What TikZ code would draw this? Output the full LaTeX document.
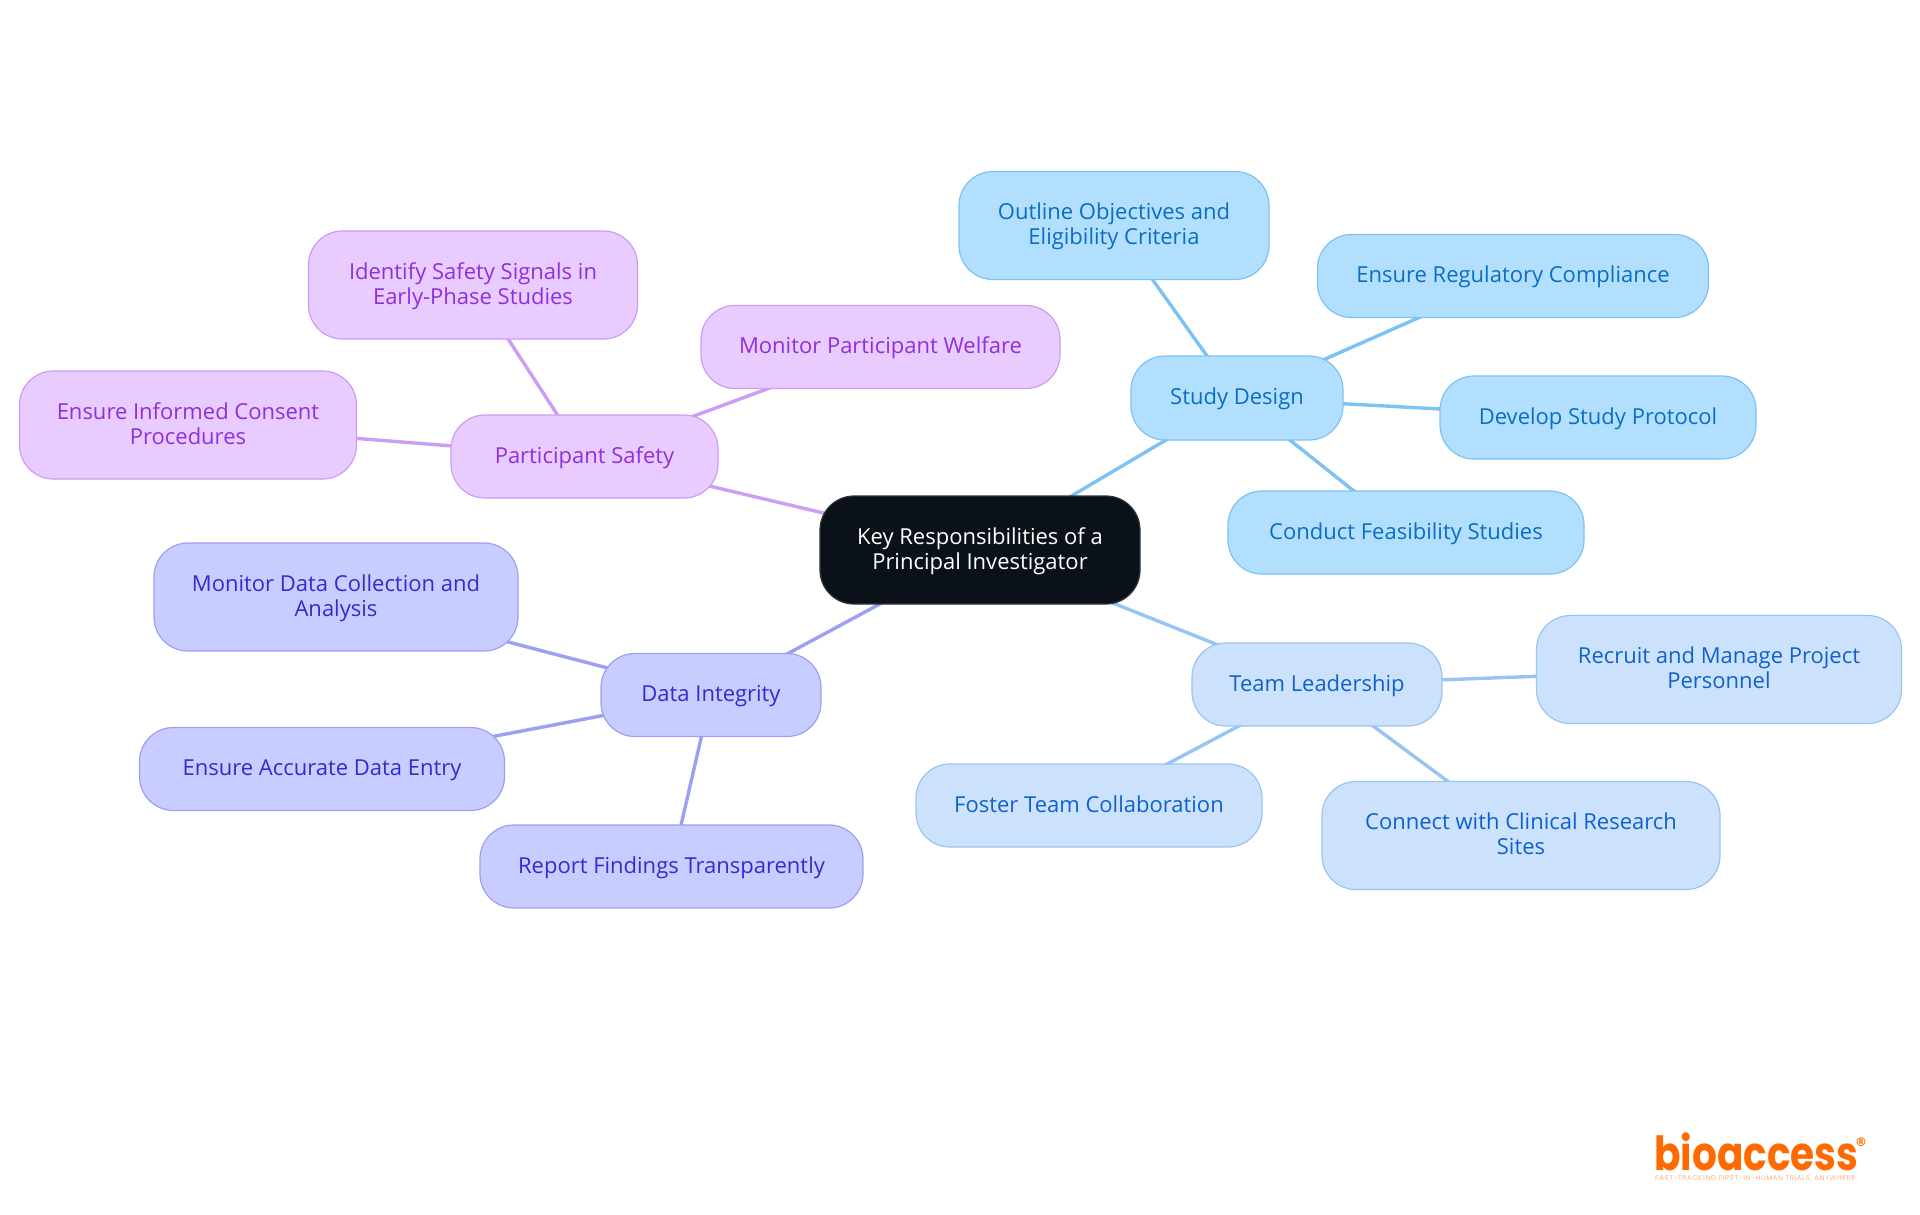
\documentclass[tikz,border=0pt]{standalone}
\usepackage{fontspec}
\setmainfont{Open Sans}
\newfontfamily\logofont[FakeStretch=0.83]{Poppins}
\newfontfamily\tagfont[LetterSpace=8]{Poppins}
\newfontfamily\regfont{DejaVu Sans}
\usetikzlibrary{backgrounds}
\newcommand{\mk}{\rule[-6pt]{0pt}{25pt}}
\definecolor{rootfill}{HTML}{0A1119}
\definecolor{sdfill}{HTML}{B3DFFF}\definecolor{sdline}{HTML}{7CC3F3}\definecolor{sdtext}{HTML}{0A6EC2}
\definecolor{tlfill}{HTML}{CCE2FC}\definecolor{tlline}{HTML}{98C4F3}\definecolor{tltext}{HTML}{0F62CC}
\definecolor{difill}{HTML}{C9CCFF}\definecolor{diline}{HTML}{9BA0F5}\definecolor{ditext}{HTML}{2E2ED0}
\definecolor{psfill}{HTML}{E8CBFF}\definecolor{psline}{HTML}{CB9DF5}\definecolor{pstext}{HTML}{9030DC}
\definecolor{logoorange}{HTML}{FF6A00}
\tikzset{
  x=1pt,y=-1pt,
  box/.style={rectangle,rounded corners=34pt,align=center,inner sep=0pt,line width=1.2pt,
    font=\fontsize{22}{25}\selectfont},
  rootbox/.style={box,fill=rootfill,draw=rootfill!85!white,text=white},
  sdbox/.style={box,fill=sdfill,draw=sdline,text=sdtext},
  tlbox/.style={box,fill=tlfill,draw=tlline,text=tltext},
  dibox/.style={box,fill=difill,draw=diline,text=ditext},
  psbox/.style={box,fill=psfill,draw=psline,text=pstext},
  link/.style={line width=3.4pt},
  sz/.style n args={2}{minimum width=#1pt,minimum height=#2pt},
}
\begin{document}
\begin{tikzpicture}
\useasboundingbox (0,0) rectangle (1920,1215);
\node[rootbox,sz={320}{108}] (root) at (980,550) {\mk Key Responsibilities of a\\\mk Principal Investigator};
\node[sdbox,sz={212}{84}] (sd) at (1237,398) {\mk Study Design};
\node[sdbox,sz={310}{108}] (sd1) at (1114,225.5) {\mk Outline Objectives and\\\mk Eligibility Criteria};
\node[sdbox,sz={391}{83}] (sd2) at (1513,276) {\mk Ensure Regulatory Compliance};
\node[sdbox,sz={316}{83}] (sd3) at (1598,417.5) {\mk Develop Study Protocol};
\node[sdbox,sz={356}{83}] (sd4) at (1406,532.5) {\mk Conduct Feasibility Studies};
\node[tlbox,sz={250}{83}] (tl) at (1317,684.5) {\mk Team Leadership};
\node[tlbox,sz={365}{108}] (tl1) at (1719,669.5) {\mk Recruit and Manage Project\\\mk Personnel};
\node[tlbox,sz={398}{108}] (tl2) at (1521,835.5) {\mk Connect with Clinical Research\\\mk Sites};
\node[tlbox,sz={346}{83}] (tl3) at (1089,805.5) {\mk Foster Team Collaboration};
\node[dibox,sz={220}{83}] (di) at (711,695) {\mk Data Integrity};
\node[dibox,sz={383}{83}] (di1) at (671.5,866.5) {\mk Report Findings Transparently};
\node[dibox,sz={365}{83}] (di2) at (322,769) {\mk Ensure Accurate Data Entry};
\node[dibox,sz={364}{108}] (di3) at (336,597) {\mk Monitor Data Collection and\\\mk Analysis};
\node[psbox,sz={267}{83}] (ps) at (584.5,456.5) {\mk Participant Safety};
\node[psbox,sz={337}{108}] (ps1) at (188,425) {\mk Ensure Informed Consent\\\mk Procedures};
\node[psbox,sz={329}{108}] (ps2) at (473,285) {\mk Identify Safety Signals in\\\mk Early-Phase Studies};
\node[psbox,sz={359}{83}] (ps3) at (880.5,347) {\mk Monitor Participant Welfare};
\begin{scope}[on background layer]
\fill[white] (0,0) rectangle (1920,1215);
\draw[link,sdline] (root.center) -- (sd.center);
\draw[link,sdline] (sd.center) -- (sd1.center);
\draw[link,sdline] (sd.center) -- (sd2.center);
\draw[link,sdline] (sd.center) -- (sd3.center);
\draw[link,sdline] (sd.center) -- (sd4.center);
\draw[link,tlline] (root.center) -- (tl.center);
\draw[link,tlline] (tl.center) -- (tl1.center);
\draw[link,tlline] (tl.center) -- (tl2.center);
\draw[link,tlline] (tl.center) -- (tl3.center);
\draw[link,diline] (root.center) -- (di.center);
\draw[link,diline] (di.center) -- (di1.center);
\draw[link,diline] (di.center) -- (di2.center);
\draw[link,diline] (di.center) -- (di3.center);
\draw[link,psline] (root.center) -- (ps.center);
\draw[link,psline] (ps.center) -- (ps1.center);
\draw[link,psline] (ps.center) -- (ps2.center);
\draw[link,psline] (ps.center) -- (ps3.center);
\end{scope}
\node[anchor=base west,inner sep=0pt,text=logoorange,font=\logofont\bfseries\fontsize{47}{47}\selectfont] (logo) at (1654,1170) {bioaccess};
\node[anchor=center,inner sep=0pt,text=logoorange,font=\regfont\bfseries\fontsize{12}{12}\selectfont] (reg) at (1861,1142) {®};
\node[anchor=base west,inner sep=0pt,text=logoorange!50!white,font=\tagfont\fontsize{7}{7}\selectfont] (tag) at (1655,1180) {FAST-TRACKING FIRST-IN-HUMAN TRIALS, ANYWHERE};
\end{tikzpicture}
\end{document}
